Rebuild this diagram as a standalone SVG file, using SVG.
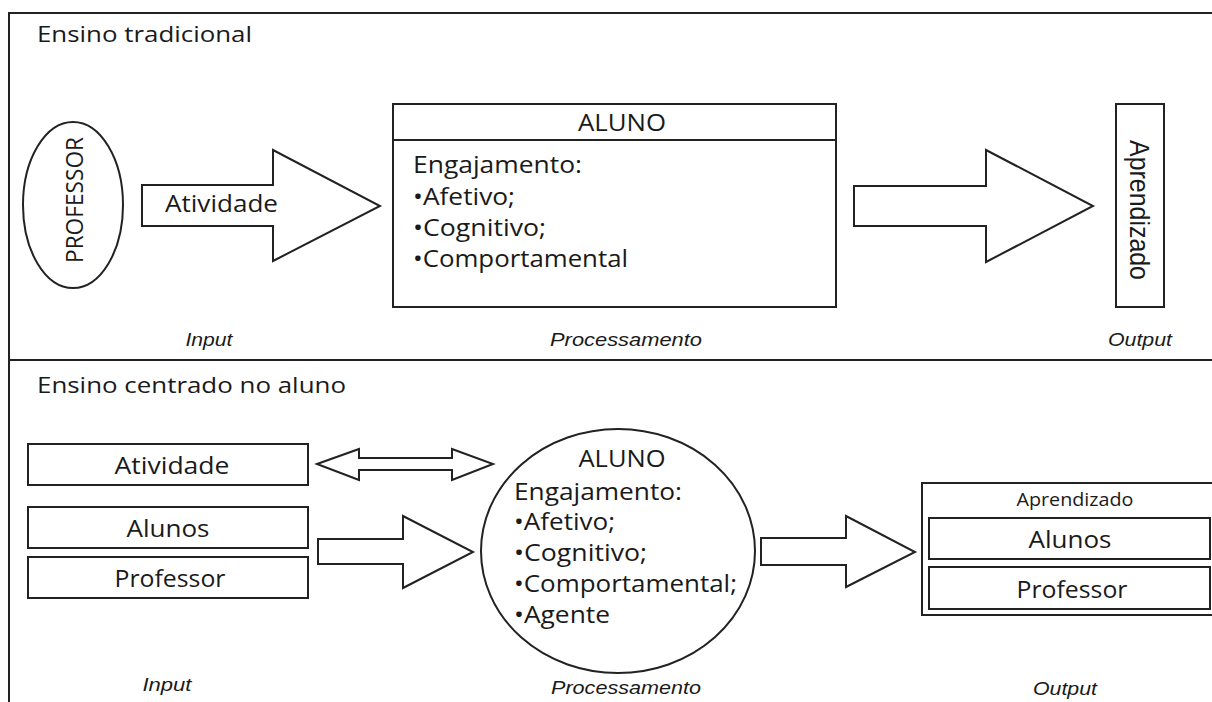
<svg xmlns="http://www.w3.org/2000/svg" width="1212" height="702" viewBox="0 0 1212 702">
  <style>
    .ln { fill: none; stroke: #222; stroke-width: 2; }
    .box { fill: #fff; stroke: #222; stroke-width: 2; }
    .blk { fill: #fff; stroke: #222; stroke-width: 2; stroke-linejoin: miter; }
    .t { font-family: "Open Sans", "Liberation Sans", sans-serif; font-size: 24px; fill: #1a1a1a; }
    .h { font-family: "Open Sans", "Liberation Sans", sans-serif; font-size: 22px; fill: #1a1a1a; }
    .it { font-family: "Liberation Sans", Arial, sans-serif; font-style: italic; font-size: 18px; fill: #1a1a1a; }
    .ar { font-family: "Liberation Sans", Arial, sans-serif; font-size: 27px; fill: #1a1a1a; }
    .c { text-anchor: middle; }
  </style>
  <rect width="1212" height="702" fill="#fff"/>

  <!-- frame and section divider -->
  <g id="frame">
    <line class="ln" x1="9" y1="13" x2="1212" y2="13"/>
    <line class="ln" x1="9" y1="12" x2="9" y2="702"/>
    <line class="ln" x1="9" y1="360" x2="1212" y2="360"/>
    <text class="h" x="37" y="42" textLength="215" lengthAdjust="spacingAndGlyphs">Ensino tradicional</text>
    <text class="h" x="37" y="393" textLength="309" lengthAdjust="spacingAndGlyphs">Ensino centrado no aluno</text>
  </g>

  <!-- stage labels -->
  <g id="labels">
    <text class="it c" x="209" y="346" textLength="47" lengthAdjust="spacingAndGlyphs">Input</text>
    <text class="it c" x="626" y="346" textLength="152" lengthAdjust="spacingAndGlyphs">Processamento</text>
    <text class="it c" x="1140" y="346" textLength="64" lengthAdjust="spacingAndGlyphs">Output</text>
    <text class="it c" x="167" y="691" textLength="49" lengthAdjust="spacingAndGlyphs">Input</text>
    <text class="it c" x="626" y="694" textLength="150" lengthAdjust="spacingAndGlyphs">Processamento</text>
    <text class="it c" x="1065" y="695" textLength="64" lengthAdjust="spacingAndGlyphs">Output</text>
  </g>

  <!-- traditional teaching -->
  <g id="professor">
    <ellipse class="box" cx="73" cy="205" rx="50" ry="83"/>
    <text class="t c" transform="translate(83,200) rotate(-90)" textLength="126" lengthAdjust="spacingAndGlyphs">PROFESSOR</text>
  </g>

  <g id="aluno-box">
    <rect class="box" x="393" y="104" width="443" height="203"/>
    <line class="ln" x1="393" y1="140" x2="836" y2="140"/>
    <text class="t c" x="622" y="131" textLength="88" lengthAdjust="spacingAndGlyphs">ALUNO</text>
    <text class="t" x="413" y="173" textLength="169" lengthAdjust="spacingAndGlyphs">Engajamento:</text>
    <text class="t" x="413" y="205" textLength="102" lengthAdjust="spacingAndGlyphs">•Afetivo;</text>
    <text class="t" x="413" y="236" textLength="133" lengthAdjust="spacingAndGlyphs">•Cognitivo;</text>
    <text class="t" x="413" y="267" textLength="215" lengthAdjust="spacingAndGlyphs">•Comportamental</text>
  </g>

  <g id="aprendizado-top">
    <rect class="box" x="1116" y="104" width="48" height="203"/>
    <text class="ar c" transform="translate(1130,210) rotate(90)" textLength="140" lengthAdjust="spacingAndGlyphs">Aprendizado</text>
  </g>

  <!-- student-centred teaching -->
  <g id="atividade">
    <rect class="box" x="28" y="444" width="280" height="41"/>
    <text class="t c" x="172" y="474" textLength="115" lengthAdjust="spacingAndGlyphs">Atividade</text>
  </g>
  <g id="alunos-in">
    <rect class="box" x="28" y="507" width="280" height="41"/>
    <text class="t c" x="168" y="537" textLength="83" lengthAdjust="spacingAndGlyphs">Alunos</text>
  </g>
  <g id="professor-in">
    <rect class="box" x="28" y="557" width="280" height="41"/>
    <text class="t c" x="170" y="587" textLength="111" lengthAdjust="spacingAndGlyphs">Professor</text>
  </g>

  <g id="aluno-circle">
    <ellipse class="box" cx="618" cy="551" rx="137" ry="122"/>
    <text class="t c" x="622" y="467" textLength="87" lengthAdjust="spacingAndGlyphs">ALUNO</text>
    <text class="t" x="514" y="500" textLength="168" lengthAdjust="spacingAndGlyphs">Engajamento:</text>
    <text class="t" x="514" y="530" textLength="101" lengthAdjust="spacingAndGlyphs">•Afetivo;</text>
    <text class="t" x="514" y="561" textLength="133" lengthAdjust="spacingAndGlyphs">•Cognitivo;</text>
    <text class="t" x="514" y="592" textLength="223" lengthAdjust="spacingAndGlyphs">•Comportamental;</text>
    <text class="t" x="514" y="623" textLength="96" lengthAdjust="spacingAndGlyphs">•Agente</text>
  </g>

  <g id="aprendizado-out">
    <rect class="box" x="922" y="483" width="292" height="132"/>
    <text class="t c" x="1075" y="506" style="font-size:19px" textLength="117" lengthAdjust="spacingAndGlyphs">Aprendizado</text>
    <rect class="box" x="929" y="518" width="281" height="41"/>
    <text class="t c" x="1070" y="548" textLength="83" lengthAdjust="spacingAndGlyphs">Alunos</text>
    <rect class="box" x="929" y="567" width="281" height="42"/>
    <text class="t c" x="1072" y="598" textLength="111" lengthAdjust="spacingAndGlyphs">Professor</text>
  </g>

  <!-- block arrows -->
  <g id="connectors">
    <polygon class="blk" points="142,185 273,185 273,150 380,206 273,261 273,226 142,226"/>
    <text class="t" x="165" y="212" textLength="113" lengthAdjust="spacingAndGlyphs">Atividade</text>
    <polygon class="blk" points="854,186 986,186 986,150 1093,206 986,262 986,226 854,226"/>
    <polygon class="blk" points="317,464 359,449 359,458 452,458 452,449 493,464 452,480 452,470 359,470 359,480"/>
    <polygon class="blk" points="318,539 403,539 403,516 473,552 403,588 403,564 318,564"/>
    <polygon class="blk" points="761,538 846,538 846,516 915,552 846,587 846,565 761,565"/>
  </g>
</svg>
